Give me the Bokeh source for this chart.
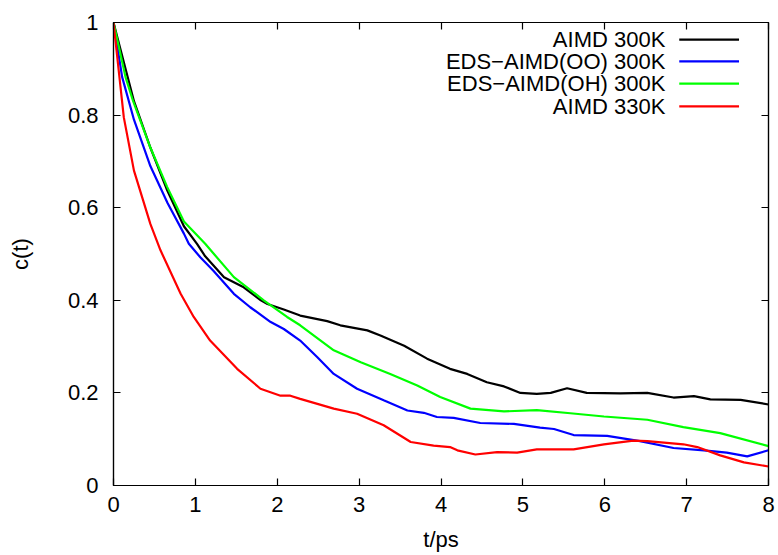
from bokeh.plotting import figure
from bokeh.models import Range1d, FixedTicker, LinearAxis, Label, CustomJSTickFormatter
from bokeh.embed import file_html
from bokeh.resources import INLINE

# ---------------- data ----------------
aimd300_t = [0, 0.25, 0.45, 0.65, 0.86, 1.02, 1.12, 1.35, 1.59, 1.80, 1.88, 2.08, 2.28, 2.61,
             2.77, 3.10, 3.26, 3.55, 3.83, 4.11, 4.32, 4.56, 4.77, 4.97, 5.17, 5.34,
             5.54, 5.78, 6.19, 6.52, 6.84, 7.09, 7.29, 7.66, 8.0]
aimd300_c = [1.0, 0.83, 0.73, 0.64, 0.56, 0.522, 0.495, 0.45, 0.428, 0.40, 0.392, 0.38, 0.367,
             0.355, 0.346, 0.335, 0.324, 0.302, 0.274, 0.252, 0.241, 0.223, 0.214,
             0.20, 0.198, 0.20, 0.21, 0.20, 0.199, 0.20, 0.19, 0.193, 0.186, 0.185, 0.175]

edsoo_t = [0, 0.106, 0.25, 0.45, 0.66, 0.86, 0.92, 1.06, 1.22, 1.47, 1.67, 1.92, 2.08, 2.28,
           2.49, 2.69, 2.975, 3.30, 3.59, 3.79, 3.95, 4.155, 4.48, 4.89, 5.21, 5.38,
           5.62, 6.03, 6.43, 6.84, 7.21, 7.49, 7.74, 8.0]
edsoo_c = [1.0, 0.882, 0.79, 0.69, 0.61, 0.544, 0.522, 0.493, 0.464, 0.414, 0.385, 0.353, 0.338,
           0.313, 0.277, 0.241, 0.209, 0.184, 0.162, 0.157, 0.148, 0.146, 0.135,
           0.133, 0.125, 0.122, 0.109, 0.107, 0.096, 0.081, 0.076, 0.071, 0.063, 0.076]

edsoh_t = [0, 0.147, 0.24, 0.45, 0.655, 0.86, 1.12, 1.47, 1.835, 2.12, 2.28, 2.69, 3.02,
           3.38, 3.71, 3.99, 4.36, 4.77, 5.17, 5.58, 5.99, 6.52, 6.96, 7.41, 8.0]
edsoh_c = [1.0, 0.882, 0.83, 0.73, 0.645, 0.57, 0.522, 0.45, 0.40, 0.364, 0.346, 0.292, 0.266,
           0.241, 0.216, 0.191, 0.166, 0.16, 0.163, 0.156, 0.149, 0.142, 0.126, 0.113, 0.085]

aimd330_t = [0, 0.126, 0.25, 0.45, 0.574, 0.82, 0.98, 1.18, 1.51, 1.795, 2.04, 2.16, 2.28,
             2.69, 2.975, 3.30, 3.63, 3.91, 4.11, 4.20, 4.42, 4.685, 4.93, 5.17, 5.62,
             5.99, 6.35, 6.52, 6.96, 7.13, 7.41, 7.70, 8.0]
aimd330_c = [1.0, 0.795, 0.68, 0.565, 0.508, 0.414, 0.364, 0.313, 0.252, 0.209, 0.194, 0.194,
             0.187, 0.166, 0.155, 0.13, 0.094, 0.086, 0.083, 0.076, 0.067, 0.072, 0.071,
             0.078, 0.078, 0.089, 0.097, 0.096, 0.089, 0.083, 0.065, 0.05, 0.041]

series_names = ["AIMD 300K", "EDS\u2212AIMD(OO) 300K", "EDS\u2212AIMD(OH) 300K", "AIMD 330K"]
series_colors = ["#000000", "#0000ff", "#00ff00", "#ff0000"]
series_t = [aimd300_t, edsoo_t, edsoh_t, aimd330_t]
series_c = [aimd300_c, edsoo_c, edsoh_c, aimd330_c]

x_ticks = [0, 1, 2, 3, 4, 5, 6, 7, 8]
y_ticks = [0, 0.2, 0.4, 0.6, 0.8, 1]
y_tick_labels = ["0", "0.2", "0.4", "0.6", "0.8", "1"]
x_title = "t/ps"
y_title = "c(t)"

FONT = "Liberation Sans"
FS = "22px"

p = figure(width=778, height=555, output_backend="svg", toolbar_location=None,
           x_range=Range1d(0, 8), y_range=Range1d(0, 1),
           min_border_left=113, min_border_right=10, min_border_top=22,
           min_border_bottom=70)
p.xgrid.visible = False
p.ygrid.visible = False
p.outline_line_color = "black"
p.outline_line_width = 1.2
p.background_fill_color = "white"
p.border_fill_color = "white"

for t, c, col in zip(series_t, series_c, series_colors):
    p.line(t, c, line_color=col, line_width=2.2)

def style_axis(ax, labels=True):
    ax.axis_line_color = "black"
    ax.axis_line_width = 1.2
    ax.major_tick_in = 7
    ax.major_tick_out = 0
    ax.major_tick_line_color = "black"
    ax.major_tick_line_width = 1.2
    ax.minor_tick_line_color = None
    ax.major_label_text_font = FONT
    ax.major_label_text_font_size = FS
    ax.major_label_text_color = "black"
    ax.axis_label_text_font = FONT
    ax.axis_label_text_font_style = "normal"
    ax.axis_label_text_font_size = FS
    ax.axis_label_text_color = "black"
    if not labels:
        ax.formatter = CustomJSTickFormatter(code="return '';")
        ax.major_label_standoff = 0

xa = p.xaxis[0]
xa.ticker = FixedTicker(ticks=x_ticks)
style_axis(xa)
xa.axis_label = x_title
xa.major_label_standoff = 11
xa.axis_label_standoff = 12

ya = p.yaxis[0]
ya.ticker = FixedTicker(ticks=y_ticks)
style_axis(ya)
ya.major_label_overrides = {v: s for v, s in zip(y_ticks, y_tick_labels)}
ya.axis_label = y_title
ya.major_label_standoff = 15
ya.axis_label_standoff = 32

top = LinearAxis(ticker=FixedTicker(ticks=x_ticks))
style_axis(top, labels=False)
p.add_layout(top, "above")
right = LinearAxis(ticker=FixedTicker(ticks=y_ticks))
style_axis(right, labels=False)
p.add_layout(right, "right")

# legend (gnuplot style: right-aligned text with line sample on the right)
leg_text_x = 6.74
leg_line_x0 = 6.91
leg_line_x1 = 7.64
leg_rows = [0.963, 0.916, 0.868, 0.819]
for name, col, yy in zip(series_names, series_colors, leg_rows):
    p.add_layout(Label(x=leg_text_x, y=yy, text=name, text_align="right",
                       text_baseline="middle", text_font=FONT, text_font_size=FS,
                       text_color="black"))
    p.segment(x0=[leg_line_x0], y0=[yy], x1=[leg_line_x1], y1=[yy],
              line_color=col, line_width=2.2)

open("out.html", "w").write(file_html(p, INLINE))
